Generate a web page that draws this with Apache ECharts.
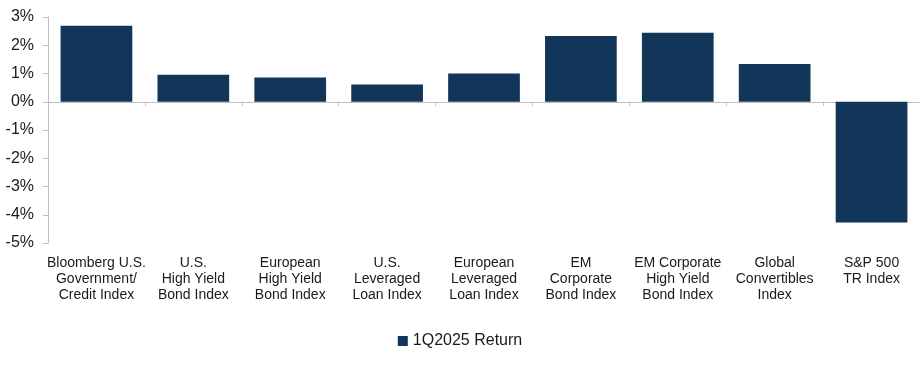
<!DOCTYPE html>
<html>
<head>
<meta charset="utf-8">
<script src="https://cdn.jsdelivr.net/npm/echarts@6/dist/echarts.min.js"></script>
<style>html,body{margin:0;padding:0;background:#fff}#c{width:920px;height:374px}</style>
</head>
<body>
<div id="c"></div>
<script>
const categories = [
  'Bloomberg U.S.\nGovernment/\nCredit Index',
  'U.S.\nHigh Yield\nBond Index',
  'European\nHigh Yield\nBond Index',
  'U.S.\nLeveraged\nLoan Index',
  'European\nLeveraged\nLoan Index',
  'EM\nCorporate\nBond Index',
  'EM Corporate\nHigh Yield\nBond Index',
  'Global\nConvertibles\nIndex',
  'S&P 500\nTR Index'
];
const seriesName = '1Q2025 Return';
const returns = [2.69, 0.96, 0.86, 0.61, 1.0, 2.33, 2.44, 1.34, -4.27];
const yTicks = { min: -5, max: 3, interval: 1 };

const chart = echarts.init(document.getElementById('c'));
const font = 'Liberation Sans, Arial, sans-serif';
chart.setOption({
  animation: false,
  grid: { left: 48, right: 0, top: 17, bottom: 131 },
  legend: {
    data: [seriesName], top: 328, left: 'center',
    icon: 'rect', itemWidth: 10, itemHeight: 10, itemGap: 5,
    textStyle: { fontFamily: font, fontSize: 16, color: '#1a1a1a' }
  },
  xAxis: [
    {
      type: 'category', data: categories, position: 'bottom',
      axisLine: { show: false, onZero: false }, axisTick: { show: false },
      axisLabel: { fontFamily: font, fontSize: 14, color: '#1a1a1a', lineHeight: 16, margin: 12, interval: 0 }
    },
    {
      type: 'category', data: categories, position: 'bottom',
      axisLine: { show: true, onZero: true, lineStyle: { color: '#bfbfbf', width: 1 } },
      axisTick: { show: true, interval: 0, length: 4, lineStyle: { color: '#bfbfbf' } },
      axisLabel: { show: false, interval: 0 }
    }
  ],
  yAxis: {
    type: 'value', min: yTicks.min, max: yTicks.max, interval: yTicks.interval,
    splitLine: { show: false },
    axisLine: { show: true, lineStyle: { color: '#bfbfbf' } },
    axisTick: { show: true, length: 5, lineStyle: { color: '#bfbfbf' } },
    axisLabel: { formatter: v => v + '%', fontFamily: font, fontSize: 16, color: '#1a1a1a', margin: 14 }
  },
  series: [{
    name: seriesName, type: 'bar', data: returns, xAxisIndex: 0,
    barCategoryGap: '26%',
    itemStyle: { color: '#12355a' }
  }]
});
</script>
</body>
</html>
